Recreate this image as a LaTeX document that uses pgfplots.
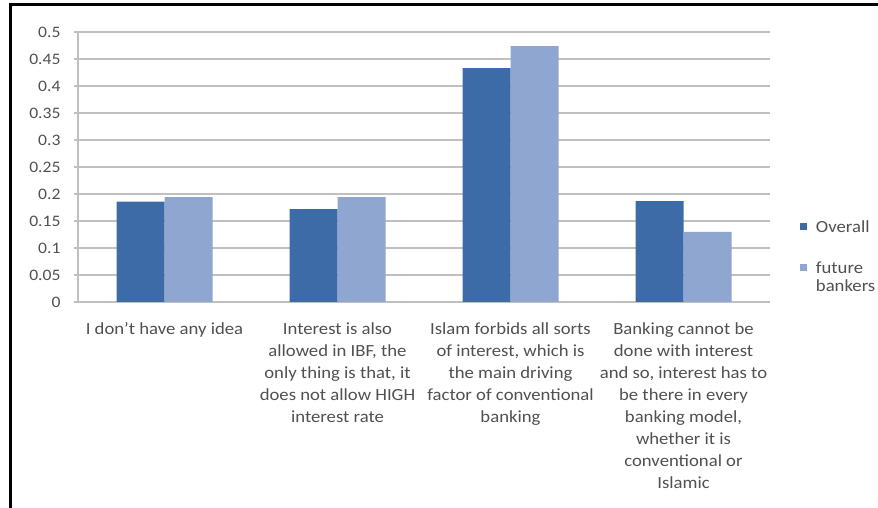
\documentclass[border=0pt]{standalone}
\usepackage{pgfplots}
\pgfplotsset{compat=1.18}
\usepackage{fontspec}
\setmainfont{Carlito}[FakeStretch=1.1]
\definecolor{overall}{RGB}{61,107,168}
\definecolor{future}{RGB}{142,166,208}
\definecolor{gridc}{RGB}{192,192,192}
\definecolor{txt}{RGB}{80,80,80}
\begin{document}
\begin{tikzpicture}[x=1pt,y=1pt]
\useasboundingbox (0,0) rectangle (878,508);
\draw[line width=3pt] (10,0) -- (10,503) -- (878,503);
\begin{axis}[
  at={(78pt,206pt)}, anchor=south west,
  scale only axis, width=692pt, height=270pt,
  ybar=0pt, bar width=48pt,
  xmin=-0.5, xmax=3.5, ymin=0, ymax=0.5,
  xtick={0,1,2,3},
  xticklabels={{I don’t have any idea},{Interest is also\\allowed in IBF, the\\only thing is that, it\\does not allow HIGH\\interest rate},{Islam forbids all sorts\\of interest, which is\\the main driving\\factor of conventional\\banking},{Banking cannot be\\done with interest\\and so, interest has to\\be there in every\\banking model,\\whether it is\\conventional or\\Islamic}},
  ytick={0,0.05,0.1,0.15,0.2,0.25,0.3,0.35,0.4,0.45,0.5},
  yticklabels={0,0.05,0.1,0.15,0.2,0.25,0.3,0.35,0.4,0.45,0.5},
  ymajorgrids, major grid style={gridc, line width=1.2pt},
  axis x line*=bottom, axis y line*=left,
  axis line style={gridc, line width=1.2pt, -},
  x axis line style={-}, y axis line style={-},
  xtick style={draw=none},
  ytick style={gridc, line width=1.2pt},
  tick align=outside, major tick length=4pt,
  /pgf/number format/assume math mode=true,
  xticklabel style={font=\fontsize{17}{22}\selectfont, text=txt, align=center, anchor=north, yshift=-13pt},
  yticklabel style={font=\fontsize{16}{18}\selectfont, text=txt, xshift=-10pt},
  legend style={at={(1.043,0.311)}, anchor=north west, draw=none, fill=none,
    font=\fontsize{17}{20}\selectfont, text=txt, inner sep=0pt,
    row sep=22pt, nodes={inner sep=2pt},
    /tikz/every odd column/.append style={column sep=7pt}},
  legend cell align=left,
  legend image code/.code={\fill[#1] (0pt,-3.5pt) rectangle (7pt,3.5pt);},
]
\addplot[fill=overall, draw=none] coordinates {(0,0.186) (1,0.172) (2,0.433) (3,0.187)};
\addplot[fill=future, draw=none] coordinates {(0,0.194) (1,0.194) (2,0.474) (3,0.13)};
\legend{Overall, {\strut\smash{\begin{tabular}[t]{@{}l@{}}future\\[-2pt]bankers\end{tabular}}}}
\end{axis}
\end{tikzpicture}
\end{document}
